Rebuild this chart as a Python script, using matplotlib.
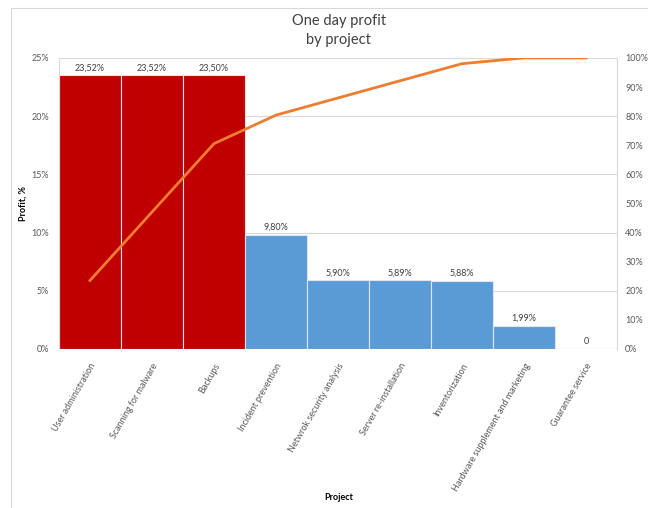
import matplotlib.pyplot as plt
import matplotlib.patches as mpatches
import numpy as np

plt.rcParams['font.family'] = ['Lato', 'DejaVu Sans']

projects = ['User administration', 'Scanning for malware', 'Backups',
            'Incident prevention', 'Netwrok security analysis',
            'Server re-installation', 'Inventorization',
            'Hardware supplement and marketing', 'Guarantee service']
profit = [23.52, 23.52, 23.50, 9.80, 5.90, 5.89, 5.88, 1.99, 0.0]
bar_labels = ['23,52%', '23,52%', '23,50%', '9,80%', '5,90%', '5,89%',
              '5,88%', '1,99%', '0']
bar_colors = ['#C00000'] * 3 + ['#5B9BD5'] * 6

cumulative = np.cumsum(profit) / sum(profit) * 100

fig = plt.figure(figsize=(6.48, 5.08), dpi=100)
ax = fig.add_axes([0.091, 0.313, 0.861, 0.573])

# outer chart border
fig.patches.append(mpatches.Rectangle((0.017, -0.05), 1.1, 1.035,
                                      transform=fig.transFigure, fill=False,
                                      edgecolor='#D9D9D9', linewidth=0.8))

x = np.arange(len(projects))
ax.bar(x, profit, width=1.0, color=bar_colors, edgecolor='#DDE6F0',
       linewidth=0.8, zorder=2)
for xi, v, lab in zip(x, profit, bar_labels):
    ax.text(xi, v + 0.25, lab, ha='center', va='bottom', fontsize=6.5,
            color='#404040')

ax.set_xlim(-0.5, len(projects) - 0.5)
ax.set_ylim(0, 25)
ax.set_yticks(np.arange(0, 26, 5))
ax.set_yticklabels([f'{t}%' for t in range(0, 26, 5)])
ax.set_xticks(x)
ax.set_xticklabels(projects, rotation=60, ha='right', rotation_mode='anchor')
ax.grid(axis='y', color='#D9D9D9', linewidth=0.8, zorder=0)
ax.set_axisbelow(True)
ax.tick_params(axis='y', length=0, labelsize=6.5, colors='#595959', pad=7)
ax.tick_params(axis='x', length=0, labelsize=6.5, colors='#595959', pad=9)
for s in ['top', 'bottom']:
    ax.spines[s].set_visible(False)
for s in ['left', 'right']:
    ax.spines[s].set_color('#D9D9D9')
    ax.spines[s].set_linewidth(0.8)

ax2 = ax.twinx()
ax2.plot(x, cumulative, color='#ED7D31', linewidth=2, zorder=3)
ax2.set_ylim(0, 100)
ax2.set_yticks(np.arange(0, 101, 10))
ax2.set_yticklabels([f'{t}%' for t in range(0, 101, 10)])
ax2.tick_params(length=0, labelsize=6.5, colors='#595959', pad=6)
for s in ax2.spines.values():
    s.set_visible(False)

fig.text(0.036, 0.6, 'Profit, %', rotation=90, ha='center', va='center',
         fontsize=6.5, fontweight='bold')
fig.text(0.523, 0.02, 'Project', ha='center', va='center', fontsize=6.5,
         fontweight='bold')
fig.text(0.523, 0.94, 'One day profit\nby project', ha='center',
         va='center', fontsize=10.5, color='#404040', linespacing=1.45)

fig.savefig('out.png', dpi=100)
